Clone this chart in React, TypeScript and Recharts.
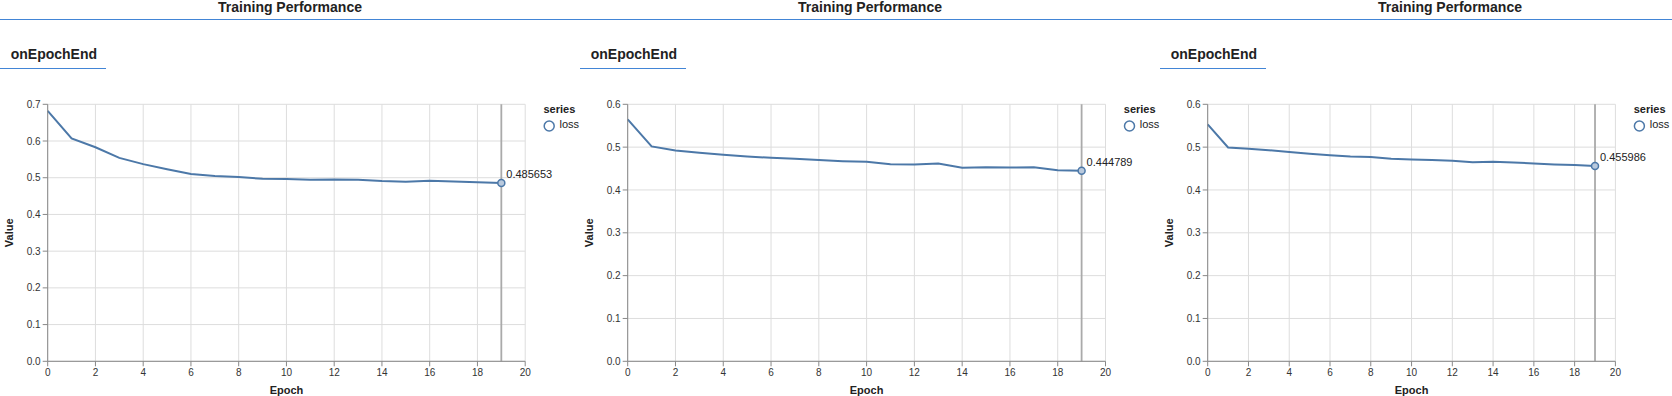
import React from 'react';
import { LineChart, Line, XAxis, YAxis, CartesianGrid, ReferenceLine } from 'recharts';

const epochs = [0, 1, 2, 3, 4, 5, 6, 7, 8, 9, 10, 11, 12, 13, 14, 15, 16, 17, 18, 19];
const lossRun1 = [0.682, 0.607, 0.583, 0.554, 0.537, 0.523, 0.51, 0.5045, 0.502, 0.497, 0.4965, 0.4945, 0.4955, 0.4945, 0.491, 0.489, 0.4915, 0.49, 0.488, 0.485653];
const lossRun2 = [0.565, 0.5016, 0.492, 0.487, 0.482, 0.478, 0.475, 0.473, 0.47, 0.4673, 0.4658, 0.46, 0.4595, 0.462, 0.4518, 0.453, 0.4525, 0.453, 0.4463, 0.444789];
const lossRun3 = [0.553, 0.4992, 0.496, 0.493, 0.4884, 0.4845, 0.481, 0.478, 0.4767, 0.473, 0.4713, 0.4698, 0.4682, 0.465, 0.4659, 0.4643, 0.462, 0.4597, 0.458, 0.455986];
const xTicks = [0, 2, 4, 6, 8, 10, 12, 14, 16, 18, 20];
const yTicksA = [0, 0.1, 0.2, 0.3, 0.4, 0.5, 0.6, 0.7];
const yTicksB = [0, 0.1, 0.2, 0.3, 0.4, 0.5, 0.6];
const titleText = 'Training Performance';
const tabText = 'onEpochEnd';
const seriesName = 'loss';
const lastLabels = ['0.485653', '0.444789', '0.455986'];

const FONT = '"Liberation Sans", Arial, sans-serif';
const BLUE = '#4c78a8';
const ACCENT = '#4285d6';
const TOP = 104.3;
const BOTTOM = 361.3;
const YAXW = 47.7;

const panels = [
  { ox: 0, chartW: 580, plotW: 477.5, values: lossRun1, yTicks: yTicksA, label: lastLabels[0] },
  { ox: 580, chartW: 580, plotW: 477.8, values: lossRun2, yTicks: yTicksB, label: lastLabels[1] },
  { ox: 1160, chartW: 512, plotW: 407.7, values: lossRun3, yTicks: yTicksB, label: lastLabels[2] },
];

function Panel({ p }: { p: typeof panels[number] }) {
  const rows = epochs.map((e, i) => ({ epoch: e, loss: p.values[i] }));
  const lastIdx = epochs.length - 1;
  const yMax = p.yTicks[p.yTicks.length - 1];
  const renderDot = (props: any) => {
    const { cx, cy, index } = props;
    if (index !== lastIdx) return <g key={`d${index}`} />;
    return (
      <g key={`d${index}`}>
        <circle cx={cx} cy={cy} r={3.5} fill="#b9c9dd" stroke={BLUE} strokeWidth={1.5} />
        <text x={cx + 5} y={cy - 5} fontSize={11} fontFamily={FONT} fill="#222">{p.label}</text>
      </g>
    );
  };
  return (
    <div style={{ position: 'absolute', left: p.ox, top: 0, width: p.chartW, height: 396 }}>
      <LineChart
        width={p.chartW}
        height={396}
        data={rows}
        margin={{ top: TOP, right: p.chartW - YAXW - p.plotW, bottom: 0, left: 0 }}
      >
        <CartesianGrid stroke="#dddddd" strokeWidth={1} />
        <XAxis
          dataKey="epoch"
          type="number"
          domain={[0, 20]}
          ticks={xTicks}
          height={396 - BOTTOM}
          stroke="#888"
          tickSize={5}
          tickMargin={3}
          tick={{ fontSize: 10, fill: '#333', fontFamily: FONT }}
          interval={0}
        />
        <YAxis
          type="number"
          domain={[0, yMax]}
          ticks={p.yTicks}
          width={YAXW}
          stroke="#888"
          tickSize={5}
          tickMargin={2}
          tick={{ fontSize: 10, fill: '#333', fontFamily: FONT }}
          tickFormatter={(v: number) => v.toFixed(1)}
          interval={0}
        />
        <ReferenceLine x={epochs[lastIdx]} stroke="#aaaaaa" strokeWidth={1.8} />
        <Line
          dataKey="loss"
          type="linear"
          stroke={BLUE}
          strokeWidth={2}
          dot={renderDot}
          activeDot={false}
          isAnimationActive={false}
        />
      </LineChart>
    </div>
  );
}

function Decor() {
  return (
    <svg width={1672} height={396} style={{ position: 'absolute', left: 0, top: 0 }}>
      {panels.map((p, i) => {
        const plotL = p.ox + YAXW;
        const plotR = plotL + p.plotW;
        return (
          <g key={i} fontFamily={FONT}>
            <text x={p.ox + 290} y={11.5} textAnchor="middle" fontSize={14} fontWeight="bold" fill="#222">{titleText}</text>
            <line x1={p.ox} x2={p.ox + 580} y1={19.5} y2={19.5} stroke={ACCENT} strokeWidth={1.2} />
            <text x={p.ox + 10.7} y={59} fontSize={14} fontWeight="bold" fill="#222">{tabText}</text>
            <line x1={p.ox} x2={p.ox + 106} y1={68.5} y2={68.5} stroke={ACCENT} strokeWidth={1.2} />
            <text transform={`translate(${p.ox + 12.5}, ${(TOP + BOTTOM) / 2}) rotate(-90)`} textAnchor="middle" fontSize={11} fontWeight="bold" fill="#222">Value</text>
            <text x={(plotL + plotR) / 2} y={393.5} textAnchor="middle" fontSize={11} fontWeight="bold" fill="#222">Epoch</text>
            <text x={plotR + 18.3} y={112.7} fontSize={11} fontWeight="bold" fill="#222">series</text>
            <circle cx={plotR + 24} cy={126} r={5} fill="none" stroke={BLUE} strokeWidth={1.5} />
            <text x={plotR + 34.3} y={128.3} fontSize={11} fill="#222">{seriesName}</text>
          </g>
        );
      })}
    </svg>
  );
}

export default function App() {
  return (
    <div style={{ position: 'absolute', left: 0, top: 0, width: 1672, height: 396, overflow: 'hidden', background: '#fff' }}>
      <Decor />
      {panels.map((p, i) => (
        <Panel key={i} p={p} />
      ))}
    </div>
  );
}
